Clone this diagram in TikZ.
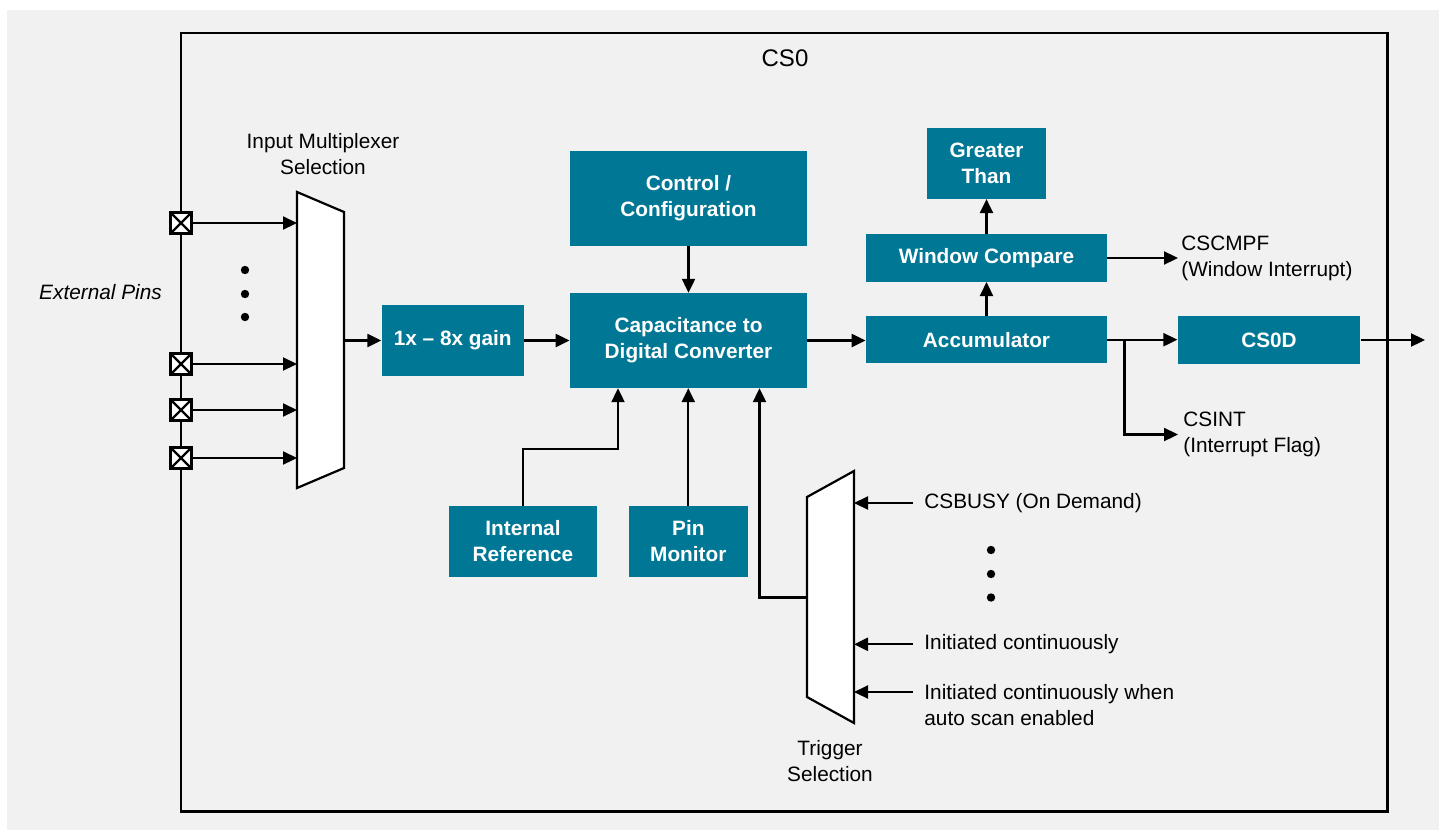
\documentclass[tikz,border=0pt]{standalone}
\usepackage{fontspec}
\setmainfont{Liberation Sans}
\usetikzlibrary{arrows.meta,calc,positioning}
\definecolor{tiblue}{RGB}{0,119,148}
\definecolor{bggray}{RGB}{241,241,241}
\tikzset{
  txt/.style={font=\fontsize{10.4}{13}\selectfont, inner sep=0pt},
  blk/.style={txt, fill=tiblue, text=white, font=\fontsize{10.4}{13}\selectfont\bfseries, align=center},
  lbl/.style={txt, align=left, anchor=west},
  sig/.style={line width=1.1pt, -{Triangle[length=7pt,width=6.5pt]}},
  muxshape/.style={draw, fill=white, line width=1.1pt, line join=miter},
  pin/.style={draw, fill=white, line width=1.6pt, minimum size=10.8pt, inner sep=0pt,
    path picture={\draw[line width=1.1pt]
      (path picture bounding box.north west) -- (path picture bounding box.south east)
      (path picture bounding box.north east) -- (path picture bounding box.south west);}},
  dot/.style={circle, fill, inner sep=0pt, minimum size=4.2pt},
}
\begin{document}
\begin{tikzpicture}[x=0.5pt, y=-0.5pt]
\useasboundingbox (0,0) rectangle (1439,830);
\fill[bggray] (7,10) rectangle (1439,830);
% CS0 module frame
\draw[line width=1.2pt] (181,33) rectangle (1387.5,811.5);
\node[txt, font=\fontsize{12}{14}\selectfont] (title) at (785,58) {CS0};

% input side
\node[txt, font=\fontsize{10.4}{13}\selectfont\itshape] (ext) at (100.5,292) {External Pins};
\node[txt, align=center] (muxlbl) at (323,154) {Input Multiplexer\\Selection};
\draw[muxshape] (297,192) -- (344,212) -- (344,468) -- (297,488) -- cycle;
\coordinate (muxin) at (297,340.5);
\coordinate (muxout) at (344,340.5);
\foreach \n/\y in {1/223,2/364,3/410,4/458} {
  \node[pin] (pin\n) at (181,\y) {};
  \draw[sig] (pin\n) -- (pin\n -| muxin);
}
\foreach \n/\y in {1/270,2/294,3/317}
  \node[dot] (ldot\n) at (245,\y) {};

% main chain
\node[blk, minimum width=71pt, minimum height=35.3pt] (gain) at (452.75,340.5) {1x – 8x gain};
\node[blk, minimum width=118.5pt, minimum height=47.3pt] (cdc) at (688.5,340.5) {Capacitance to\\Digital Converter};
\node[blk, minimum width=118.5pt, minimum height=47.3pt] (ctrl) at (688.5,198.5) {Control /\\Configuration};
\node[blk, minimum width=74pt, minimum height=35.3pt] (iref) at (523,541.3) {Internal\\Reference};
\node[blk, minimum width=59.3pt, minimum height=35.3pt] (pmon) at (688.3,541.3) {Pin\\Monitor};
\node[blk, minimum width=120.5pt, minimum height=23.6pt] (acc) at (986.5,339.7) {Accumulator};
\node[blk, minimum width=120.5pt, minimum height=23.6pt] (wcmp) at (986.5,258) {Window Compare};
\node[blk, minimum width=59.3pt, minimum height=35.2pt] (gt) at (986.5,163.5) {Greater\\Than};
\node[blk, minimum width=91.2pt, minimum height=24pt] (csd) at (1269,340) {CS0D};

\draw[sig] (muxout) -- (muxout -| gain.west);
\draw[sig] (gain.east) -- (gain.east -| cdc.west);
\draw[sig] (ctrl) -- (cdc);
\draw[sig] (cdc.east) -- (cdc.east -| acc.west);
\draw[sig] (acc) -- (wcmp);
\draw[sig] (wcmp) -- (gt);
\draw[sig] (iref.north) -- ++(0,-57) -| ($(cdc.south)+(-70.5,0)$);
\draw[sig] (pmon.north) -- (pmon.north |- cdc.south);

% outputs
\node[lbl] (cmpf) at (1181,258) {CSCMPF\\(Window Interrupt)};
\node[lbl] (csint) at (1183,434.5) {CSINT\\(Interrupt Flag)};
\draw[sig] (wcmp.east) -- ([xshift=-1.5pt]cmpf.west);
\draw[sig] (acc.east) -- (acc.east -| csd.west);
\coordinate (split) at (1124.5,340);
\draw[sig] (split) |- ([xshift=-2.5pt]csint.west);
\coordinate (out) at (1425,340);
\draw[sig] (csd.east) -- (out);

% trigger selection
\draw[muxshape] (807,497) -- (854,471) -- (854,723) -- (807,697) -- cycle;
\coordinate (trgout) at (807,597.5);
\coordinate (trgin) at (854,597.5);
\node[txt, align=center] (trglbl) at (830,761) {Trigger\\Selection};
\draw[sig] (trgout) -| ($(cdc.south)+(71,0)$);
\node[lbl] (busy) at (924,503) {CSBUSY (On Demand)};
\node[lbl] (cont) at (924,644.3) {Initiated continuously};
\node[lbl] (auto) at (924,705) {Initiated continuously when\\auto scan enabled};
\draw[sig] ([xshift=-5.5pt]busy.west) -- (busy.west -| trgin);
\draw[sig] ([xshift=-5.5pt]cont.west) -- (cont.west -| trgin);
\draw[sig] ([xshift=-5.5pt,yshift=6.5pt]auto.west) -- ([yshift=6.5pt]auto.west -| trgin);
\foreach \n/\y in {1/550,2/574,3/597.5}
  \node[dot] (rdot\n) at (991,\y) {};
\end{tikzpicture}
\end{document}
